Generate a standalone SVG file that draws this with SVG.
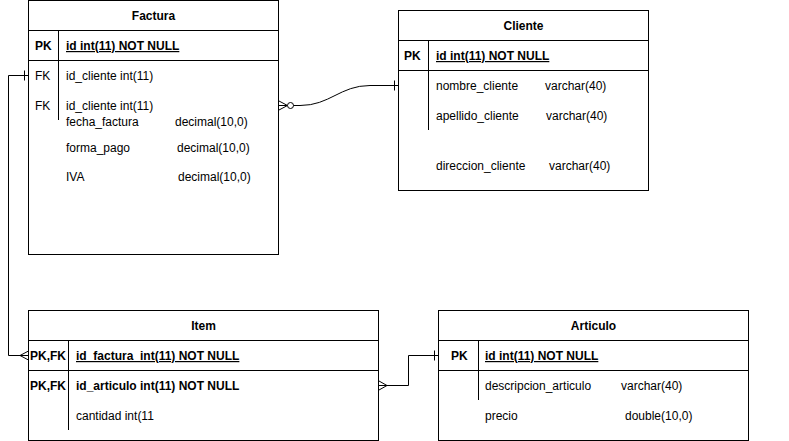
<svg xmlns="http://www.w3.org/2000/svg" width="789" height="441" viewBox="0 0 789 441">
<style>
.box{fill:#fff;stroke:#000;stroke-width:1}
.ln{fill:none;stroke:#000;stroke-width:1}
text{font-family:"Liberation Sans",Arial,Helvetica,sans-serif;font-size:12px;fill:#000}
.b{font-weight:bold}
.t{font-weight:bold;text-anchor:middle}
.u{text-decoration:underline}
.pre{white-space:pre}
</style>
<rect width="789" height="441" fill="#fff"/>
<g id="connectors" class="ln">
  <!-- Factura to Item -->
  <path d="M28,75.5 H8.5 V355.5 H28"/>
  <path d="M24.5,70.5 V80.5"/>
  <path d="M20,355.5 L28.5,351 M20,355.5 L28.5,360"/>
  <!-- Factura to Cliente -->
  <path d="M279,105.5 L287.5,105.5 M279,101 L287.5,105.5 L279,110"/>
  <circle cx="290.5" cy="105.5" r="3" fill="#fff" stroke="#000"/>
  <path d="M293.5,105.5 H300 C330,105.5 340,85.5 370,85.5 H398"/>
  <path d="M394.5,80.5 V90.5"/>
  <!-- Item to Articulo -->
  <path d="M379,385.5 H408.5 V355.5 H438"/>
  <path d="M379,381 L387,385.5 L379,390"/>
  <path d="M434.5,350.5 V360.5"/>
</g>
<g id="Factura">
  <rect class="box" x="28.5" y="0.5" width="250" height="254"/>
  <path class="ln" d="M28.5,30.5 H278.5 M28.5,60.5 H278.5 M58.5,30.5 V120"/>
  <text class="t" x="153.5" y="20">Factura</text>
  <text class="b" x="35" y="50">PK</text>
  <text class="b u" x="66" y="50">id int(11) NOT NULL</text>
  <text x="35" y="80">FK</text>
  <text x="66" y="80">id_cliente int(11)</text>
  <text x="35" y="110">FK</text>
  <text x="66" y="110">id_cliente int(11)</text>
  <text x="66" y="126">fecha_factura</text>
  <text x="175" y="126">decimal(10,0)</text>
  <text x="66" y="152">forma_pago</text>
  <text x="177" y="152">decimal(10,0)</text>
  <text x="66" y="181">IVA</text>
  <text x="178" y="181">decimal(10,0)</text>
</g>
<g id="Cliente">
  <rect class="box" x="398.5" y="10.5" width="250" height="180"/>
  <path class="ln" d="M398.5,40.5 H648.5 M398.5,70.5 H648.5 M428.5,40.5 V130"/>
  <text class="t" x="523.5" y="30">Cliente</text>
  <text class="b" x="404" y="60">PK</text>
  <text class="b u" x="436" y="60">id int(11) NOT NULL</text>
  <text x="436" y="90">nombre_cliente</text>
  <text x="545" y="90">varchar(40)</text>
  <text x="436" y="120">apellido_cliente</text>
  <text x="546" y="120">varchar(40)</text>
  <text x="436" y="170">direccion_cliente</text>
  <text x="549" y="170">varchar(40)</text>
</g>
<g id="Item">
  <rect class="box" x="28.5" y="310.5" width="350" height="130"/>
  <path class="ln" d="M28.5,340.5 H378.5 M28.5,370.5 H378.5 M68.5,340.5 V430"/>
  <text class="t" x="203.5" y="330">Item</text>
  <text class="b" x="30" y="360">PK,FK</text>
  <text class="b u pre" x="76" y="360">id_factura  int(11) NOT NULL</text>
  <text class="b" x="30" y="390">PK,FK</text>
  <text class="b" x="76" y="390">id_articulo int(11) NOT NULL</text>
  <text x="76" y="420">cantidad int(11</text>
</g>
<g id="Articulo">
  <rect class="box" x="438.5" y="310.5" width="310" height="130"/>
  <path class="ln" d="M438.5,340.5 H748.5 M438.5,370.5 H748.5 M478.5,340.5 V400"/>
  <text class="t" x="593.5" y="330">Articulo</text>
  <text class="b" x="451" y="360">PK</text>
  <text class="b u" x="485" y="360">id int(11) NOT NULL</text>
  <text x="485" y="390">descripcion_articulo</text>
  <text x="621" y="390">varchar(40)</text>
  <text x="485" y="420">precio</text>
  <text x="625" y="420">double(10,0)</text>
</g>
</svg>
